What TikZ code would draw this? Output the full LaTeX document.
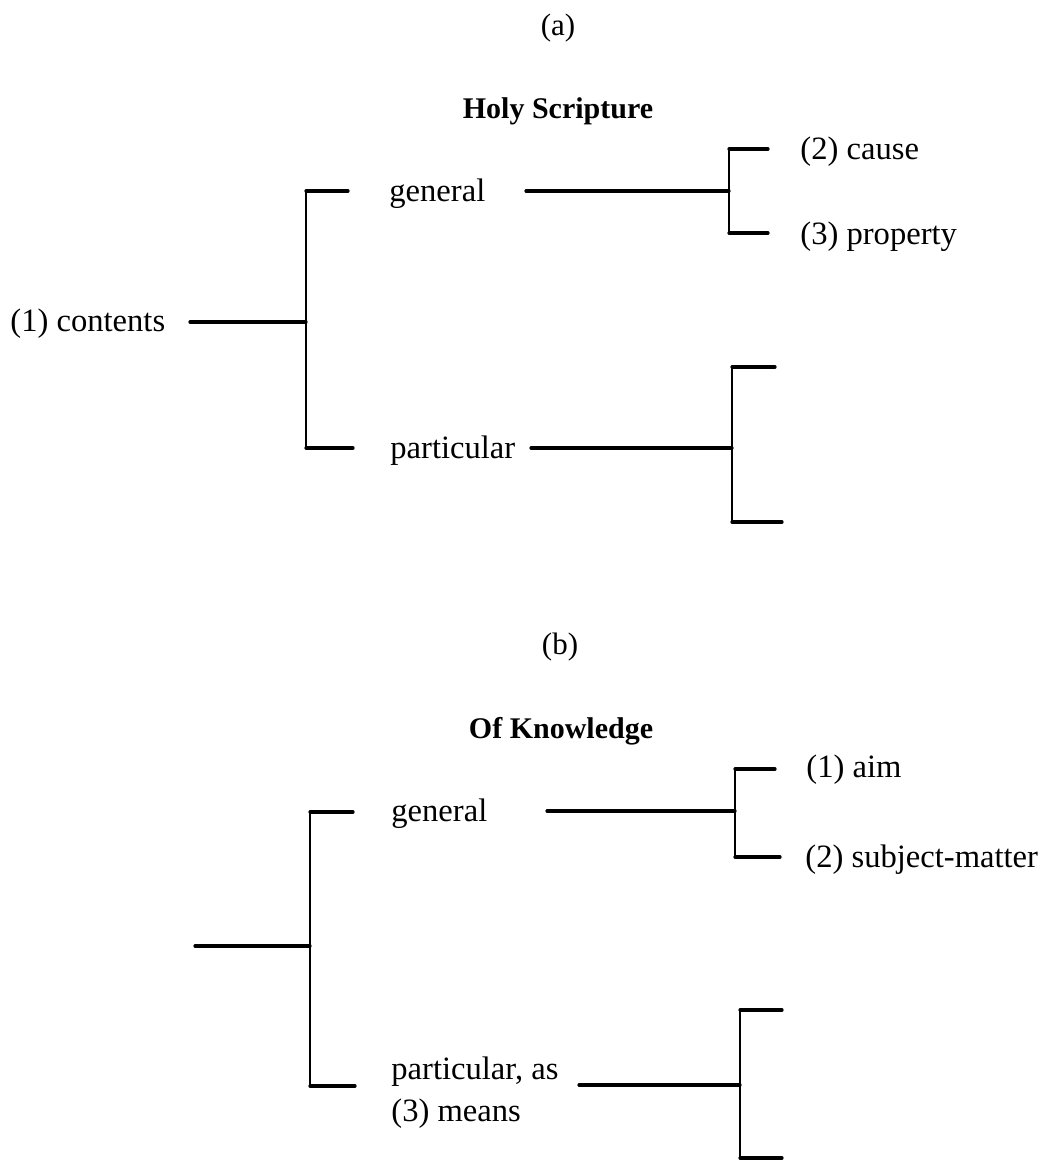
\documentclass[tikz,border=0pt]{standalone}
\usepackage{fontspec}
\setmainfont{Liberation Serif}
\begin{document}
\begin{tikzpicture}[x=0.5pt,y=-0.5pt,
  lbl/.style={font=\fontsize{16.3}{19}\selectfont, inner sep=0pt, anchor=mid west},
  partlbl/.style={font=\fontsize{15.5}{18}\selectfont, inner sep=0pt},
  ttl/.style={font=\fontsize{15}{18}\selectfont\bfseries, inner sep=0pt},
  hl/.style={line width=1.6pt, line cap=round},
  vl/.style={line width=0.9pt}]
\useasboundingbox (0,0) rectangle (1049,1162);

% ---------------- (a) ----------------
\node[partlbl] (capa) at (558,28) {(a)};
\node[ttl] (titlea) at (558,111) {Holy Scripture};

\node[lbl] (contents) at (10,327) {(1) contents};
\node[lbl] (gena) at (389,197) {general};
\node[lbl] (parta) at (390,454) {particular};
\node[lbl] (cause) at (800,155) {(2) cause};
\node[lbl] (property) at (800,240) {(3) property};

\coordinate (a0s) at (190,322);
\coordinate (aJ) at (306,322);
\coordinate (aT) at (306,191);
\coordinate (aTe) at (348,191);
\coordinate (aB) at (306,448);
\coordinate (aBe) at (353,448);
\draw[hl] (a0s) -- (aJ);
\draw[vl] (aT) -- (aB);
\draw[hl] (aT) -- (aTe);
\draw[hl] (aB) -- (aBe);

\coordinate (ag0) at (526,191);
\coordinate (agJ) at (729,191);
\coordinate (agT) at (729,149);
\coordinate (agTe) at (768,149);
\coordinate (agB) at (729,233);
\coordinate (agBe) at (768,233);
\draw[hl] (ag0) -- (agJ);
\draw[vl] (agT) -- (agB);
\draw[hl] (agT) -- (agTe);
\draw[hl] (agB) -- (agBe);

\coordinate (ap0) at (531,448);
\coordinate (apJ) at (732,448);
\coordinate (apT) at (732,367);
\coordinate (apTe) at (775,367);
\coordinate (apB) at (732,522);
\coordinate (apBe) at (782,522);
\draw[hl] (ap0) -- (apJ);
\draw[vl] (apT) -- (apB);
\draw[hl] (apT) -- (apTe);
\draw[hl] (apB) -- (apBe);

% ---------------- (b) ----------------
\node[partlbl] (capb) at (560,647) {(b)};
\node[ttl] (titleb) at (561,731) {Of Knowledge};

\node[lbl] (genb) at (391,817) {general};
\node[lbl] (aim) at (806,773) {(1) aim};
\node[lbl] (subj) at (805,863) {(2) subject-matter};
\node[lbl] (partb) at (391,1075) {particular, as};
\node[lbl] (means) at (391,1117) {(3) means};

\coordinate (b0s) at (195,946);
\coordinate (bJ) at (310,946);
\coordinate (bT) at (310,812);
\coordinate (bTe) at (353,812);
\coordinate (bB) at (310,1086);
\coordinate (bBe) at (355,1086);
\draw[hl] (b0s) -- (bJ);
\draw[vl] (bT) -- (bB);
\draw[hl] (bT) -- (bTe);
\draw[hl] (bB) -- (bBe);

\coordinate (bg0) at (547,811);
\coordinate (bgJ) at (735,811);
\coordinate (bgT) at (735,769);
\coordinate (bgTe) at (775,769);
\coordinate (bgB) at (735,857);
\coordinate (bgBe) at (780,857);
\draw[hl] (bg0) -- (bgJ);
\draw[vl] (bgT) -- (bgB);
\draw[hl] (bgT) -- (bgTe);
\draw[hl] (bgB) -- (bgBe);

\coordinate (bp0) at (579,1085);
\coordinate (bpJ) at (740,1085);
\coordinate (bpT) at (740,1010);
\coordinate (bpTe) at (782,1010);
\coordinate (bpB) at (740,1158);
\coordinate (bpBe) at (782,1158);
\draw[hl] (bp0) -- (bpJ);
\draw[vl] (bpT) -- (bpB);
\draw[hl] (bpT) -- (bpTe);
\draw[hl] (bpB) -- (bpBe);
\end{tikzpicture}
\end{document}
